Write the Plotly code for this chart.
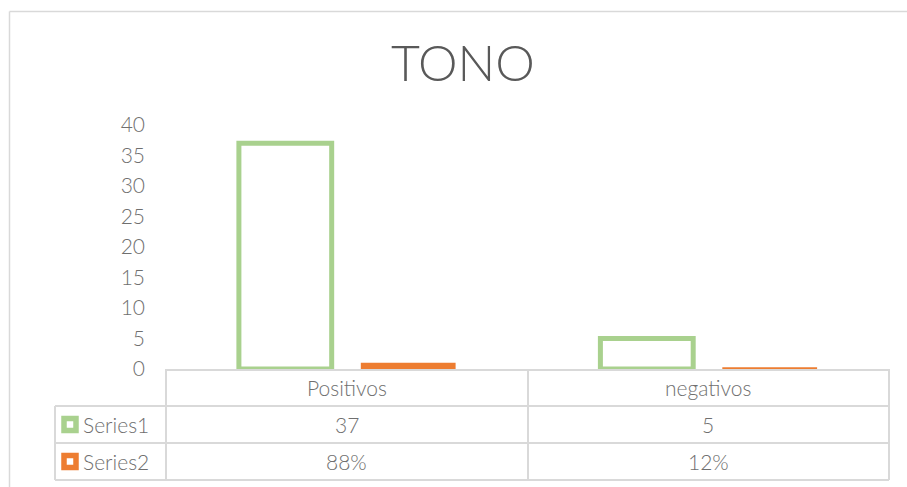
import plotly.graph_objects as go

# ---- data ----
categories = ["Positivos", "negativos"]
series_names = ["Series1", "Series2"]
series1_values = [37, 5]
series2_values = [0.88, 0.12]
y_ticks = [0, 5, 10, 15, 20, 25, 30, 35, 40]
title_text = "TONO"

# ---- style ----
W, H = 907, 487
L, R, T, B = 166, 18, 125, 118
PW, PH = W - L - R, H - T - B
GREEN = "#a9d18e"
ORANGE = "#ed7d31"
GRID = "#d9d9d9"
TXT = "#6f6f6f"
FONT = "Century Gothic, Lato, sans-serif"


def px(xp):
    return (xp - L) / PW


def py(yp):
    return (H - B - yp) / PH


fig = go.Figure()
fig.add_trace(go.Bar(
    x=categories, y=series1_values, name=series_names[0],
    marker=dict(color="rgba(255,255,255,0)", line=dict(color=GREEN, width=5)),
))
fig.add_trace(go.Bar(
    x=categories, y=series2_values, name=series_names[1],
    marker=dict(color=ORANGE, line=dict(color=ORANGE, width=2)),
))

shapes = []
line = dict(color=GRID, width=2)
# outer chart border (top and left visible)
shapes.append(dict(type="line", xref="paper", yref="paper", x0=px(9.5), x1=px(W + 5),
                   y0=py(11.5), y1=py(11.5), line=dict(color=GRID, width=1.5)))
shapes.append(dict(type="line", xref="paper", yref="paper", x0=px(9.5), x1=px(9.5),
                   y0=py(11.5), y1=py(H + 5), line=dict(color=GRID, width=1.5)))
# data table grid
row_lines = [406, 443, 480]
for yy in row_lines:
    shapes.append(dict(type="line", xref="paper", yref="paper", x0=px(55), x1=1,
                       y0=py(yy), y1=py(yy), line=line))
shapes.append(dict(type="line", xref="paper", yref="paper", x0=px(55), x1=px(55),
                   y0=py(406), y1=py(480), line=line))
for xx in [166, 528, 889]:
    shapes.append(dict(type="line", xref="paper", yref="paper", x0=px(xx), x1=px(xx),
                       y0=py(369), y1=py(480), line=line))
# legend keys in table
key_colors = [GREEN, ORANGE]
row_centers = [424.5, 461.5]
for c, yc in zip(key_colors, row_centers):
    shapes.append(dict(type="rect", xref="paper", yref="paper",
                       x0=px(64), x1=px(76), y0=py(yc - 6), y1=py(yc + 6),
                       fillcolor="white", line=dict(color=c, width=5.5)))

annotations = []
tfont = dict(family=FONT, size=21, color=TXT, weight=300)
for cat in categories:
    annotations.append(dict(x=cat, xref="x", y=py(387.5), yref="paper", text=cat,
                            showarrow=False, font=tfont, xanchor="center", yanchor="middle"))
for name, yc in zip(series_names, row_centers):
    annotations.append(dict(x=px(81), xref="paper", y=py(yc), yref="paper", text=name,
                            showarrow=False, font=tfont, xanchor="left", yanchor="middle"))
for cat, v in zip(categories, series1_values):
    annotations.append(dict(x=cat, xref="x", y=py(row_centers[0]), yref="paper", text=f"{v}",
                            showarrow=False, font=tfont, xanchor="center", yanchor="middle"))
for cat, v in zip(categories, series2_values):
    annotations.append(dict(x=cat, xref="x", y=py(row_centers[1]), yref="paper",
                            text=f"{round(v * 100)}%",
                            showarrow=False, font=tfont, xanchor="center", yanchor="middle"))

fig.update_layout(
    width=W, height=H,
    margin=dict(l=L, r=R, t=T, b=B, pad=0),
    paper_bgcolor="white", plot_bgcolor="white",
    showlegend=False,
    barmode="group", bargap=0.32, bargroupgap=0.245,
    title=dict(text=title_text, xref="container", yref="container",
               x=463 / W, xanchor="center", y=1 - 63 / H, yanchor="middle",
               font=dict(family=FONT, size=50, color="#595959", weight=300)),
    xaxis=dict(showticklabels=False, ticks="", showgrid=False, zeroline=False,
               showline=True, linecolor=GRID, linewidth=2),
    yaxis=dict(range=[0, 40], tickvals=y_ticks, showgrid=False, zeroline=False,
               showline=False, ticks="", ticklabelstandoff=20,
               tickfont=dict(family=FONT, size=21, color=TXT, weight=300)),
    shapes=shapes,
    annotations=annotations,
)

fig.write_html("out.html", config={"displayModeBar": False},
               post_script="document.body.style.margin='0px';")
